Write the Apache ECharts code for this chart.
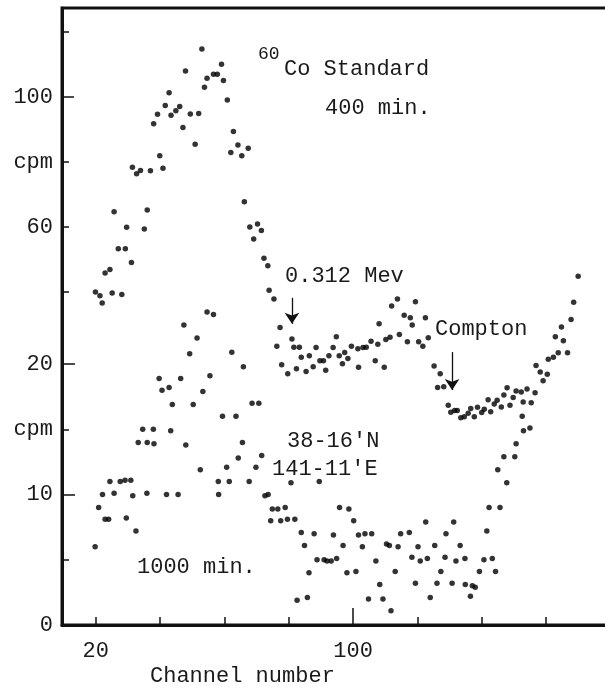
<!DOCTYPE html>
<html>
<head>
<meta charset="utf-8">
<title>60Co standard and field gamma spectra</title>
<script src="https://cdn.jsdelivr.net/npm/echarts@6/dist/echarts.min.js"></script>
<style>
  html, body { margin: 0; padding: 0; background: #fff; }
  #chart { width: 605px; height: 689px; }
</style>
</head>
<body>
<div id="chart"></div>
<script>
// 60Co standard, 400 min (upper curve, upper cpm scale)
var stdChannel = [
  19.9, 21.3, 22.0, 22.9, 24.4, 25.1, 25.7, 27.0, 28.1, 29.2,
  29.6, 31.1, 31.4, 32.7, 33.9, 35.1, 36.0, 37.0, 38.0, 39.2,
  39.9, 40.9, 41.6, 42.8, 43.4, 44.9, 46.1, 47.1, 47.9, 49.4,
  50.9, 52.0, 53.0, 53.8, 54.6, 56.6, 57.8, 59.1, 59.7, 60.9,
  62.0, 62.8, 64.2, 65.4, 66.2, 67.4, 67.9, 69.1, 70.3, 71.5,
  72.3, 73.5, 73.9, 75.4, 76.3, 77.3, 77.8, 79.7, 81.0, 81.6,
  82.4, 83.3, 83.9, 85.4, 86.4, 87.6, 88.5, 89.7, 90.8, 91.5,
  92.5, 93.8, 94.8, 95.7, 96.7, 97.4, 98.4, 99.5, 101.5, 101.7,
  103.1, 104.1, 105.6, 106.9, 107.7, 108.1, 109.7, 110.2, 111.5, 112.0,
  113.8, 114.4, 115.9, 116.9, 117.8, 118.4, 119.4, 120.4, 121.7, 122.5,
  123.4, 125.2, 126.3, 127.1, 128.2, 129.6, 130.4, 131.6, 132.4, 133.5,
  134.6, 135.8, 136.6, 137.7, 138.7, 140.0, 140.8, 142.0, 142.8, 143.9,
  144.8, 146.1, 146.9, 147.9, 148.8, 149.8, 150.7, 152.3, 152.9, 154.1,
  155.4, 156.6, 156.9, 158.2, 159.1, 160.4, 160.7, 162.3, 162.9, 163.8,
  164.8, 165.4, 166.7, 167.8, 168.6, 170.0
];
var stdCpm = [
  40.0, 38.8, 36.6, 45.8, 46.9, 39.7, 64.7, 53.3, 39.2, 53.3,
  59.9, 49.1, 78.4, 76.4, 77.4, 59.4, 65.2, 77.3, 91.8, 94.7,
  81.9, 78.1, 97.4, 101.3, 94.4, 95.8, 97.1, 90.6, 108.0, 94.8,
  85.5, 94.9, 114.8, 103.0, 105.8, 107.0, 107.0, 110.1, 105.1, 99.1,
  82.9, 89.4, 85.2, 81.9, 67.8, 84.2, 60.0, 56.3, 60.9, 58.9,
  50.4, 48.1, 40.5, 37.8, 23.3, 29.1, 17.6, 14.8, 25.5, 23.0,
  16.4, 23.0, 19.9, 15.5, 20.4, 17.0, 22.9, 18.8, 18.8, 15.9,
  20.4, 22.9, 26.2, 20.4, 17.9, 21.4, 19.5, 23.3, 22.5, 16.8,
  22.9, 23.0, 24.8, 18.8, 23.9, 30.2, 16.8, 25.4, 26.1, 35.7,
  37.8, 26.9, 32.8, 24.7, 32.1, 29.8, 37.0, 24.7, 23.3, 32.1,
  25.9, 17.2, 10.6, 14.8, 10.8, 5.1, 3.0, 3.5, 3.5, 1.3,
  1.6, 2.7, 4.1, 1.6, 4.5, 2.9, 3.9, 6.8, 3.1, 5.5,
  6.7, 4.6, 8.3, 10.5, 5.1, 7.5, 9.5, 9.2, 6.1, 10.1,
  5.9, 9.0, 17.4, 15.4, 12.7, 14.7, 19.3, 19.9, 26.2, 21.3,
  29.2, 25.0, 21.3, 31.5, 36.8, 44.8
];

// 38-16'N 141-11'E, 1000 min (lower curve, lower cpm scale)
var siteChannel = [
  19.8, 20.9, 22.1, 22.9, 24.0, 24.4, 25.7, 27.6, 29.1, 29.5,
  30.9, 31.5, 32.5, 33.2, 34.6, 35.9, 36.0, 37.9, 38.1, 39.7,
  40.6, 42.0, 42.8, 43.3, 43.8, 45.6, 46.4, 47.4, 48.0, 49.2,
  50.3, 51.5, 52.5, 53.3, 54.6, 55.5, 56.6, 58.1, 58.2, 59.4,
  60.7, 61.5, 62.3, 63.6, 64.3, 65.6, 65.9, 67.7, 68.6, 69.8,
  70.7, 71.6, 72.6, 73.6, 74.4, 74.9, 76.6, 77.5, 78.9, 79.6,
  80.7, 81.9, 82.6, 83.9, 84.9, 85.8, 86.3, 87.9, 88.8, 89.5,
  91.0, 91.9, 93.2, 93.9, 94.9, 95.8, 96.9, 98.1, 98.7, 100.2,
  100.9, 101.7, 102.9, 103.7, 104.8, 105.8, 107.1, 108.3, 109.3, 110.4,
  111.3, 111.8, 113.1, 114.0, 114.8, 117.5, 118.3, 119.4, 120.2, 120.9,
  122.6, 123.1, 124.0, 125.4, 126.1, 127.3, 128.6, 128.9, 130.8, 131.3,
  132.0, 133.3, 134.8, 134.9, 136.5, 137.1, 138.0, 139.3, 140.7, 141.6,
  142.3, 143.3, 144.3, 145.0, 145.7, 146.9, 147.8, 150.3, 150.7, 152.6,
  153.0, 155.0
];
var siteCpm = [
  6.0, 9.0, 10.0, 8.1, 8.1, 11.0, 10.1, 11.0, 11.1, 8.2,
  11.1, 9.9, 7.2, 14.0, 15.0, 10.1, 14.0, 15.0, 13.9, 18.9,
  18.0, 10.0, 18.2, 14.9, 16.9, 10.0, 18.9, 23.0, 13.8, 20.8,
  16.9, 22.0, 11.9, 17.9, 24.0, 19.1, 23.8, 11.0, 10.0, 16.0,
  12.1, 11.0, 20.9, 16.0, 12.8, 14.0, 19.8, 11.0, 17.0, 12.1,
  17.0, 13.0, 9.9, 10.0, 8.0, 8.9, 8.9, 8.0, 9.0, 8.1,
  10.9, 8.1, 1.9, 7.1, 6.1, 2.1, 4.0, 7.0, 5.0, 11.0,
  5.0, 4.9, 4.9, 6.9, 5.1, 9.0, 6.1, 4.0, 8.9, 8.0,
  4.1, 6.9, 6.0, 7.0, 2.0, 7.0, 4.9, 3.1, 2.0, 6.2,
  6.1, 1.1, 4.1, 6.0, 7.0, 7.1, 5.2, 3.2, 6.0, 4.9,
  7.9, 5.1, 2.1, 6.1, 3.2, 4.1, 5.2, 7.0, 3.2, 7.9,
  4.9, 6.1, 5.1, 3.1, 2.2, 3.0, 2.9, 4.1, 5.0, 7.2,
  9.0, 5.1, 4.1, 11.9, 9.0, 12.9, 10.9, 12.9, 13.9, 16.0,
  14.9, 15.1
];

// axis ticks and labels
var xTicks = [20, 40, 60, 80, 120, 140, 160, 180];
var xLongTicks = [100];
var xLabels = [20, 100];
var upperTicks = [40, 60, 80, 120];
var upperLongTicks = [100];
var upperLabels = [60, 80, 100];
var lowerTicks = [5, 15];
var lowerLongTicks = [10, 20];
var lowerLabels = [0, 10, 15, 20];
var unitAt = { upper: 80, lower: 15 };

// arrows: [channel, from cpm, to cpm]
var mevArrow = [81.0, 38.2, 30.2];
var comptonArrow = [130.8, 21.5, 9.8];

var FONT = '"Liberation Mono", "DejaVu Sans Mono", monospace';
var INK = '#1a1a1a';

function zip(xs, ys) {
  return xs.map(function (x, i) { return [x, ys[i]]; });
}

function note(txt, x, y, size) {
  return {
    type: 'text', x: x, y: y, silent: true,
    style: { text: txt, font: (size || 22) + 'px ' + FONT, fill: INK, verticalAlign: 'middle' }
  };
}

var xMin = 9.5, xMax = 179.9;
var upMin = -62.5, upMax = 127.4;
var loMin = 0, loMax = 47.3;

function yAxisDef(min, max, ticks, len, labels, unit, line) {
  return {
    type: 'value', min: min, max: max, position: 'left', offset: 0,
    axisLine: { show: !!line, onZero: false, lineStyle: { color: '#111', width: 3 } },
    axisTick: { show: true, inside: true, length: len, customValues: ticks,
                lineStyle: { color: '#111', width: 1.5 } },
    axisLabel: labels ? {
      show: true, customValues: labels, margin: 9,
      fontFamily: FONT, fontSize: 22, color: INK,
      formatter: function (v) { return v === unit ? 'cpm' : String(v); }
    } : { show: false },
    splitLine: { show: false }
  };
}

function xAxisDef(ticks, len, labels, line) {
  return {
    type: 'value', min: xMin, max: xMax, position: 'bottom', offset: 0,
    axisLine: { show: !!line, onZero: false, lineStyle: { color: '#111', width: 3 } },
    axisTick: { show: true, inside: true, length: len, customValues: ticks,
                lineStyle: { color: '#111', width: 1.5 } },
    axisLabel: labels ? {
      show: true, customValues: labels, margin: 15,
      fontFamily: FONT, fontSize: 22, color: INK
    } : { show: false },
    splitLine: { show: false }
  };
}

var chart = echarts.init(document.getElementById('chart'));

chart.setOption({
  animation: false,
  backgroundColor: '#fff',
  grid: {
    left: 62, top: 8, width: 548, height: 617,
    show: true, borderColor: '#111', borderWidth: 3,
    containLabel: false, outerBoundsMode: 'none'
  },
  xAxis: [
    xAxisDef(xTicks, 8, xLabels, true),
    xAxisDef(xLongTicks, 17, null, false)
  ],
  yAxis: [
    yAxisDef(upMin, upMax, upperTicks, 7, upperLabels, unitAt.upper, true),
    yAxisDef(loMin, loMax, lowerLongTicks, 13, lowerLabels, unitAt.lower, false),
    yAxisDef(upMin, upMax, upperLongTicks, 12, null, null, false),
    yAxisDef(loMin, loMax, lowerTicks, 7, null, null, false)
  ],
  series: [
    {
      name: '60Co Standard 400 min.',
      type: 'scatter', xAxisIndex: 0, yAxisIndex: 0,
      data: zip(stdChannel, stdCpm),
      symbolSize: 5.5,
      itemStyle: { color: '#000' },
      markLine: {
        silent: true,
        symbol: ['none', 'arrow'], symbolSize: 11,
        lineStyle: { color: '#111', width: 1.3, type: 'solid' },
        label: { show: false },
        data: [
          [{ coord: [mevArrow[0], mevArrow[1]] }, { coord: [mevArrow[0], mevArrow[2]] }],
          [{ coord: [comptonArrow[0], comptonArrow[1]] }, { coord: [comptonArrow[0], comptonArrow[2]] }]
        ]
      }
    },
    {
      name: "38-16'N 141-11'E 1000 min.",
      type: 'scatter', xAxisIndex: 0, yAxisIndex: 1,
      data: zip(siteChannel, siteCpm),
      symbolSize: 5.5,
      itemStyle: { color: '#000' }
    }
  ],
  graphic: [
    note('60', 258, 54, 18),
    note('Co Standard', 284, 69),
    note('400 min.', 325, 108),
    note('0.312 Mev', 285, 276),
    note('Compton', 435, 329),
    note("38-16'N", 287, 441),
    note("141-11'E", 272, 469),
    note('1000 min.', 137, 567),
    note('Channel number', 150, 676)
  ]
});
</script>
</body>
</html>
